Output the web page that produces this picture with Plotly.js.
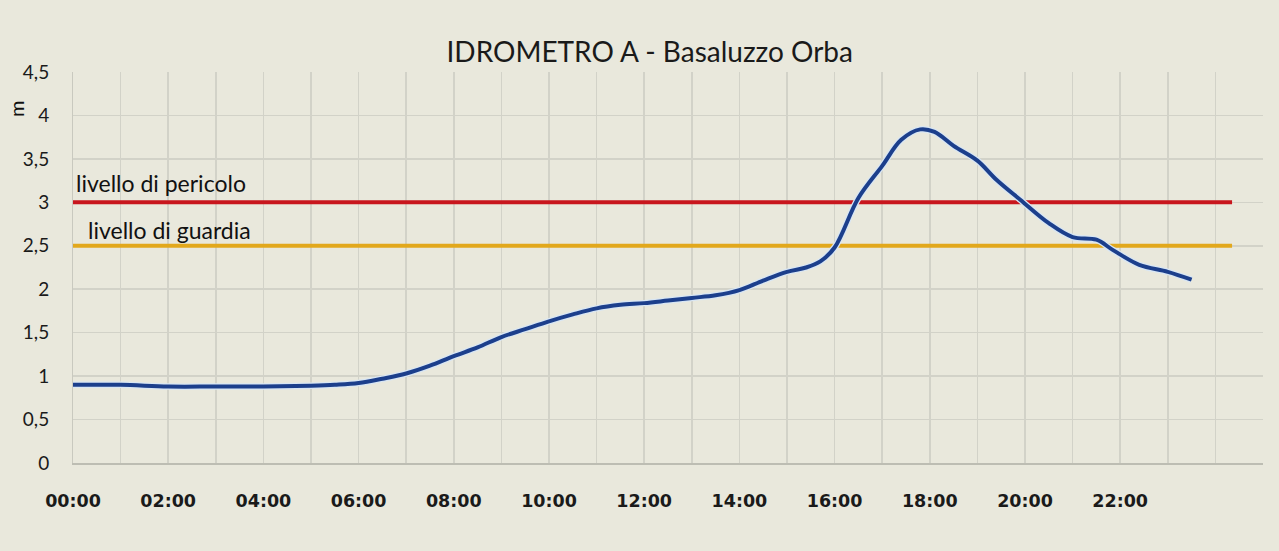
<!DOCTYPE html>
<html><head><meta charset="utf-8">
<script src="https://cdn.plot.ly/plotly-3.0.1.min.js"></script>
<style>html,body{margin:0;padding:0;background:#e9e8dc;}#chart{width:1279px;height:551px;}</style>
</head><body><div id="chart"></div>
<script>
// hours since 00:00
const hours = [0, 1, 2, 3, 4, 5, 5.5, 6, 6.5, 7, 7.5, 8, 8.5, 9, 9.5, 10, 10.5, 11, 11.5, 12, 12.5, 13, 13.5, 14, 14.5, 15, 15.4, 15.7, 16, 16.5, 17, 17.4, 17.8, 18.1, 18.5, 19, 19.4, 19.9, 20.5, 21, 21.5, 21.85, 22.4, 23, 23.5];
const level = [0.90, 0.90, 0.88, 0.88, 0.88, 0.89, 0.90, 0.92, 0.97, 1.03, 1.12, 1.23, 1.33, 1.45, 1.54, 1.63, 1.71, 1.78, 1.82, 1.84, 1.87, 1.90, 1.93, 1.99, 2.10, 2.20, 2.25, 2.32, 2.48, 3.05, 3.42, 3.72, 3.84, 3.81, 3.65, 3.48, 3.26, 3.03, 2.76, 2.60, 2.57, 2.45, 2.28, 2.20, 2.11];
const dangerLevel = 3.0;
const guardLevel = 2.5;
const thresholdX = [0, 24.35];
const tickHours = Array.from({length: 26}, (_, i) => i);
const tickLabels = tickHours.map(h => (h % 2 === 0 && h <= 22) ? '<b>' + String(h).padStart(2, '0') + ':00</b>' : '');
const yTicks = [0, 0.5, 1, 1.5, 2, 2.5, 3, 3.5, 4, 4.5];

const traces = [
  {x: thresholdX, y: [dangerLevel, dangerLevel], mode: 'lines', line: {color: '#c8161d', width: 4}, hoverinfo: 'skip'},
  {x: thresholdX, y: [guardLevel, guardLevel], mode: 'lines', line: {color: '#e2a81c', width: 4}, hoverinfo: 'skip'},
  {x: hours, y: level, mode: 'lines', line: {color: '#d8e6f4', width: 6.5, shape: 'spline', smoothing: 1}, hoverinfo: 'skip'},
  {x: hours, y: level, mode: 'lines', line: {color: '#1c3f8c', width: 4, shape: 'spline', smoothing: 1}}
];

const layout = {
  width: 1279, height: 551,
  paper_bgcolor: '#e9e8dc', plot_bgcolor: '#e9e8dc',
  separators: ', ',
  showlegend: false,
  margin: {l: 73, r: 16, t: 72, b: 88},
  title: {text: 'IDROMETRO A - Basaluzzo Orba', font: {family: 'Lato', size: 28, color: '#1a1a1a'}, x: 0.508, xanchor: 'center', y: 0.905, yanchor: 'middle'},
  xaxis: {range: [0, 25], tickmode: 'array', tickvals: tickHours, ticktext: tickLabels,
    showgrid: true, gridcolor: '#d2d2c8', gridwidth: 1.5, zeroline: false,
    showline: true, linecolor: '#bdbdb3', linewidth: 2, ticks: '', ticklabelstandoff: 21,
    tickfont: {family: 'DejaVu Sans', size: 17.5, color: '#1a1a1a'}, fixedrange: true},
  yaxis: {range: [0, 4.5], tickmode: 'array', tickvals: yTicks, ticktext: yTicks.map(v => String(v).replace('.', ',')),
    showgrid: true, gridcolor: '#d2d2c8', gridwidth: 1.5, zeroline: false,
    showline: true, linecolor: '#c9c9bf', linewidth: 1, ticks: '', ticklabelstandoff: 19,
    tickfont: {family: 'Lato', size: 19, color: '#1a1a1a'}, fixedrange: true},
  annotations: [
    {text: 'livello di pericolo', xref: 'x', yref: 'y', x: 0.02, y: 3.0, xanchor: 'left', yanchor: 'bottom', yshift: 3, showarrow: false, font: {family: 'Lato', size: 23, color: '#111'}},
    {text: 'livello di guardia', xref: 'x', yref: 'y', x: 0.27, y: 2.5, xanchor: 'left', yanchor: 'bottom', yshift: 0, showarrow: false, font: {family: 'Lato', size: 23, color: '#111'}},
    {text: 'm', xref: 'paper', yref: 'paper', x: -0.048, y: 0.905, xanchor: 'center', yanchor: 'middle', textangle: -90, showarrow: false, font: {family: 'Lato', size: 20, color: '#111'}}
  ]
};
Plotly.newPlot('chart', traces, layout, {displayModeBar: false, staticPlot: true});
</script></body></html>
